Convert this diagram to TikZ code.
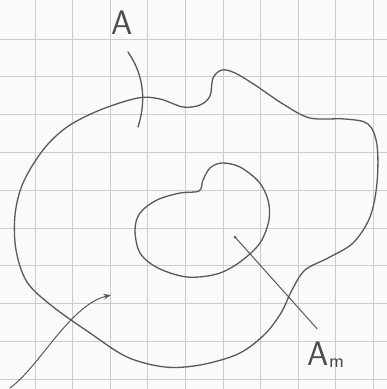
\documentclass[tikz,border=0pt]{standalone}
\usepackage{fontspec}
\usetikzlibrary{arrows.meta}
\begin{document}
\begin{tikzpicture}[x=1pt, y=-1pt, >=Stealth,
    gridline/.style={draw=black!20, line width=0.9pt},
    pencil/.style={draw=black!65, line width=1.3pt, line cap=round},
    letter/.style={text=black!70, font=\fontsize{34}{34}\selectfont\sffamily}]
        % Paper
        \fill[black!2] (0,0) rectangle (387,389);
        \useasboundingbox (0,0) rectangle (387,389);

        % Grid
        \foreach \i in {0,...,9} {
            \draw[gridline] ({35+37.6*\i},0) -- ({35+37.6*\i},389);
            \draw[gridline] (0,{39+37.8*\i}) -- (387,{39+37.8*\i});
        }

        % Outer region A
        \draw[pencil] plot[smooth cycle, tension=0.55] coordinates {
            (138,98) (160,99) (183,107) (200,105) (210,96) (213,78) (222,70)
            (235,73) (255,85) (283,104) (310,118) (345,119) (368,124)
            (377,145) (377,183) (370,217) (353,243) (328,258) (305,270)
            (292,290) (281,313) (264,335) (238,354) (200,365) (165,367)
            (127,357) (90,333) (52,306) (27,282) (16,250) (15,215)
            (23,183) (43,150) (67,127) (100,110)};

        % Inner region A_m
        \draw[pencil] plot[smooth cycle, tension=0.55] coordinates {
            (199,191) (203,180) (210,168) (222,163) (240,167) (259,182)
            (268,200) (269,220) (260,243) (240,262) (217,274) (187,277)
            (158,268) (140,253) (135,230) (140,213) (157,200) (180,193)};

        % Labels
        \node[letter] (lblA) at (122,23) {A};
        \node[letter] (lblAm) at (326,355) {A\raisebox{-2pt}{\fontsize{20}{20}\selectfont m}};

        % Mark on the boundary of A
        \draw[pencil] (128,52) .. controls (146,78) and (145,105) .. (138,127);

        % Leader to A_m
        \coordinate (inAm) at (235,237);
        \path (lblAm.north) ++(-9,-10) coordinate (tipAm);
        \draw[pencil, line width=1pt] (tipAm) -- (inAm);
        \fill[black!65] (inAm) circle (1.5pt);

        % Arrow into the ring
        \coordinate (start) at (10,388);
        \coordinate (ring) at (111,295);
        \draw[pencil, line width=1pt, ->] (start) .. controls (40,366) and (70,305) .. (ring);
    \end{tikzpicture}
\end{document}
